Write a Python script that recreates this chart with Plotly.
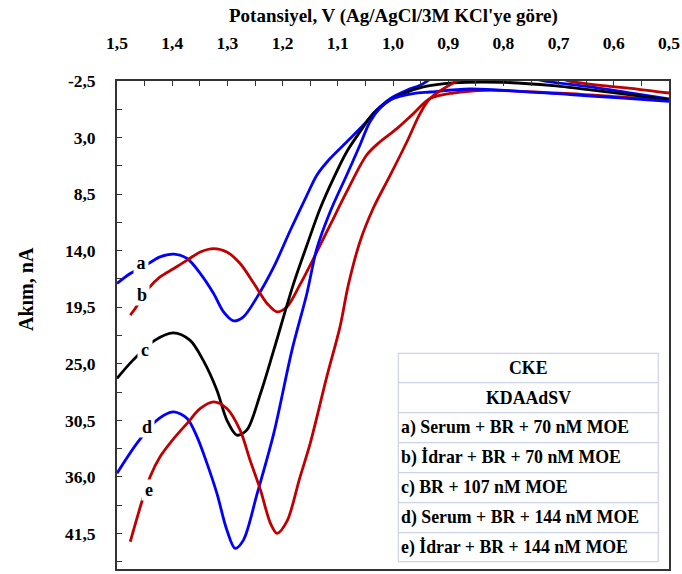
import plotly.graph_objects as go

# ---------------- data (potential V, current nA) ----------------
E_a = [1.500, 1.476, 1.443, 1.422, 1.397, 1.373, 1.349, 1.325, 1.307, 1.289, 1.271, 1.246,
       1.216, 1.186, 1.156, 1.138, 1.114, 1.084, 1.054, 1.030, 1.005, 0.975, 0.951, 0.92,
       0.85, 0.78, 0.722, 0.649, 0.577, 0.500]
I_a = [17.19, 16.22, 15.25, 14.60, 14.34, 14.76, 16.22, 18.16, 19.95, 20.82, 20.43, 18.49,
       15.58, 12.01, 8.61, 6.66, 5.04, 3.43, 1.81, 0.35, -0.79, -1.60, -2.08, -3.0,
       -3.6, -3.1, -2.47, -1.98, -1.40, -0.75]

E_b = [1.476, 1.467, 1.443, 1.422, 1.397, 1.373, 1.349, 1.325, 1.301, 1.277, 1.252, 1.228,
       1.210, 1.192, 1.169, 1.144, 1.114, 1.084, 1.048, 1.024, 0.993, 0.963, 0.933, 0.891,
       0.830, 0.770, 0.679, 0.589, 0.500]
I_b = [20.27, 19.62, 17.67, 16.55, 15.73, 14.92, 14.12, 13.79, 14.12, 15.25, 17.19, 19.13,
       19.95, 19.46, 17.35, 14.76, 11.52, 8.29, 4.72, 3.43, 2.13, 0.67, -0.79, -1.33,
       -1.60, -1.50, -1.28, -0.95, -0.62]

E_c = [1.500, 1.471, 1.431, 1.398, 1.368, 1.344, 1.319, 1.301, 1.283, 1.265, 1.240, 1.216,
       1.181, 1.156, 1.132, 1.108, 1.084, 1.060, 1.036, 1.011, 0.981, 0.945, 0.891, 0.801,
       0.710, 0.620, 0.500]
I_c = [26.42, 24.64, 22.70, 21.99, 22.70, 24.64, 27.56, 30.47, 31.93, 31.45, 27.88, 23.67,
       17.35, 13.47, 9.90, 6.99, 4.40, 2.46, 0.67, -0.46, -1.28, -1.92, -2.31, -2.37,
       -2.05, -1.50, -0.69]

E_d = [1.500, 1.464, 1.431, 1.415, 1.397, 1.373, 1.355, 1.337, 1.319, 1.301, 1.286, 1.271,
       1.246, 1.216, 1.183, 1.156, 1.138, 1.114, 1.084, 1.060, 1.042, 1.024, 1.000, 0.963,
       0.933, 0.861, 0.770, 0.679, 0.589, 0.500]
I_d = [35.65, 32.74, 30.64, 29.99, 29.67, 30.31, 32.10, 34.68, 37.60, 41.16, 42.94, 42.14,
       37.60, 31.77, 23.67, 18.16, 13.79, 10.23, 6.66, 3.75, 1.48, 0.18, -0.79, -1.28,
       -1.43, -1.72, -1.50, -1.18, -0.85, -0.53]

E_e = [1.476, 1.455, 1.440, 1.422, 1.397, 1.373, 1.349, 1.325, 1.301, 1.277, 1.259, 1.240,
       1.222, 1.210, 1.192, 1.169, 1.150, 1.120, 1.096, 1.081, 1.060, 1.036, 1.005, 0.975,
       0.951, 0.933, 0.891, 0.85, 0.77, 0.70, 0.679, 0.620, 0.558, 0.500]
I_e = [42.30, 38.41, 35.98, 34.04, 32.25, 30.79, 29.34, 28.70, 29.34, 31.45, 34.36, 37.28,
       40.51, 41.48, 40.30, 36.11, 32.74, 26.27, 21.41, 17.35, 13.15, 9.90, 6.66, 3.43,
       0.67, -0.79, -2.31, -3.3, -3.6, -2.8, -2.47, -2.05, -1.72, -1.33]

series_names = ["a", "b", "c", "d", "e"]
x_tick_vals = [1.5, 1.45, 1.4, 1.35, 1.3, 1.25, 1.2, 1.15, 1.1, 1.05, 1.0,
               0.95, 0.9, 0.85, 0.8, 0.75, 0.7, 0.65, 0.6, 0.55, 0.5]
x_tick_text = ["1,5", "", "1,4", "", "1,3", "", "1,2", "", "1,1", "", "1,0",
               "", "0,9", "", "0,8", "", "0,7", "", "0,6", "", "0,5"]
y_tick_vals = [-2.5, 0.25, 3.0, 5.75, 8.5, 11.25, 14.0, 16.75, 19.5, 22.25, 25.0,
               27.75, 30.5, 33.25, 36.0, 38.75, 41.5, 44.25]
y_tick_text = ["-2,5", "", "3,0", "", "8,5", "", "14,0", "", "19,5", "", "25,0",
               "", "30,5", "", "36,0", "", "41,5", ""]
table_rows = ["CKE", "KDAAdSV", "a) Serum + BR + 70 nM MOE", "b) İdrar + BR + 70 nM MOE",
              "c) BR + 107 nM MOE", "d) Serum + BR + 144 nM MOE", "e) İdrar + BR + 144 nM MOE"]

# ---------------- styling ----------------
BLUE = "#0000FF"
RED = "#C00000"
BLACK = "#000000"
FONT = "Liberation Serif"
series = [(E_a, I_a, BLUE), (E_b, I_b, RED), (E_c, I_c, BLACK), (E_d, I_d, BLUE), (E_e, I_e, RED)]
label_pos = {"a": (1.4565, 15.2), "b": (1.4547, 18.3), "c": (1.4493, 23.7),
             "d": (1.4457, 31.1), "e": (1.4429, 37.3)}

W, H = 682, 574
L, R, T, B = 117, 13, 81, 5
PW, PH = W - L - R, H - T - B


def px_x(p):
    return (p - L) / PW


def px_y(p):
    return (H - B - p) / PH


fig = go.Figure()
for (E, I, col), name in zip(series, series_names):
    fig.add_trace(go.Scatter(x=E, y=I, mode="lines", name=name,
                             line=dict(color=col, width=2.8, shape="spline", smoothing=0.9),
                             hoverinfo="skip", showlegend=False))

annotations = []
for name in series_names:
    lx, ly = label_pos[name]
    annotations.append(dict(x=lx, y=ly, xref="x", yref="y", text=name, showarrow=False,
                            font=dict(family=FONT, size=18, color="black", weight="bold"),
                            bgcolor="white", width=14, height=20, borderpad=0))

# axis titles
annotations.append(dict(x=0.5, y=px_y(16), xref="paper", yref="paper",
                        text="Potansiyel, V (Ag/AgCl/3M KCl'ye göre)", showarrow=False,
                        font=dict(family=FONT, size=19, color="black", weight="bold"),
                        xanchor="center", yanchor="middle"))
annotations.append(dict(x=px_x(26), y=px_y(289), xref="paper", yref="paper",
                        text="Akım, nA", showarrow=False, textangle=-90,
                        font=dict(family=FONT, size=20, color="black", weight="bold"),
                        xanchor="center", yanchor="middle"))

# legend table
tx0, tx1 = 398.3, 658.3
row_edges = [353.3, 382.7, 412.7, 442.7, 472.7, 502.7, 532.7, 561.7]
shapes = [dict(type="rect", xref="paper", yref="paper", x0=px_x(tx0), x1=px_x(tx1),
               y0=px_y(row_edges[-1]), y1=px_y(row_edges[0]),
               line=dict(color="#CDD3E6", width=1.2), fillcolor="white", layer="above")]
for ye in row_edges[1:-1]:
    shapes.append(dict(type="line", xref="paper", yref="paper", x0=px_x(tx0), x1=px_x(tx1),
                       y0=px_y(ye), y1=px_y(ye), line=dict(color="#CDD3E6", width=1.2),
                       layer="above"))
for i, txt in enumerate(table_rows):
    yc = (row_edges[i] + row_edges[i + 1]) / 2
    if i < 2:
        annotations.append(dict(x=px_x((tx0 + tx1) / 2), y=px_y(yc), xref="paper", yref="paper",
                                text=txt, showarrow=False, xanchor="center", yanchor="middle",
                                font=dict(family=FONT, size=17.8, color="black", weight="bold")))
    else:
        annotations.append(dict(x=px_x(tx0 + 1.0), y=px_y(yc), xref="paper", yref="paper",
                                text=txt, showarrow=False, xanchor="left", yanchor="middle",
                                font=dict(family=FONT, size=17.8, color="black", weight="bold")))

AX = "#333333"
fig.update_layout(
    width=W, height=H,
    margin=dict(l=L, r=R, t=T, b=B, pad=0, autoexpand=False),
    paper_bgcolor="white", plot_bgcolor="white",
    showlegend=False,
    xaxis=dict(side="top", range=[1.5, 0.5], tickmode="array", tickvals=x_tick_vals,
               ticktext=x_tick_text, ticks="inside", ticklen=5, tickwidth=1.3, tickcolor=AX,
               showgrid=False, zeroline=False, showline=True, linecolor=AX, linewidth=1.8,
               mirror=True, ticklabelstandoff=23, automargin=False,
               tickfont=dict(family=FONT, size=17.5, color="black", weight="bold")),
    yaxis=dict(range=[44.95, -2.5], tickmode="array", tickvals=y_tick_vals,
               ticktext=y_tick_text, ticks="inside", ticklen=5, tickwidth=1.3, tickcolor=AX,
               showgrid=False, zeroline=False, showline=True, linecolor=AX, linewidth=1.8,
               mirror=True, ticklabelstandoff=16, automargin=False,
               tickfont=dict(family=FONT, size=17.5, color="black", weight="bold")),
    annotations=annotations,
    shapes=shapes,
)

fig.write_html("out.html", config={"displayModeBar": False},
               post_script="document.body.style.margin='0';document.body.style.overflow='hidden';")
